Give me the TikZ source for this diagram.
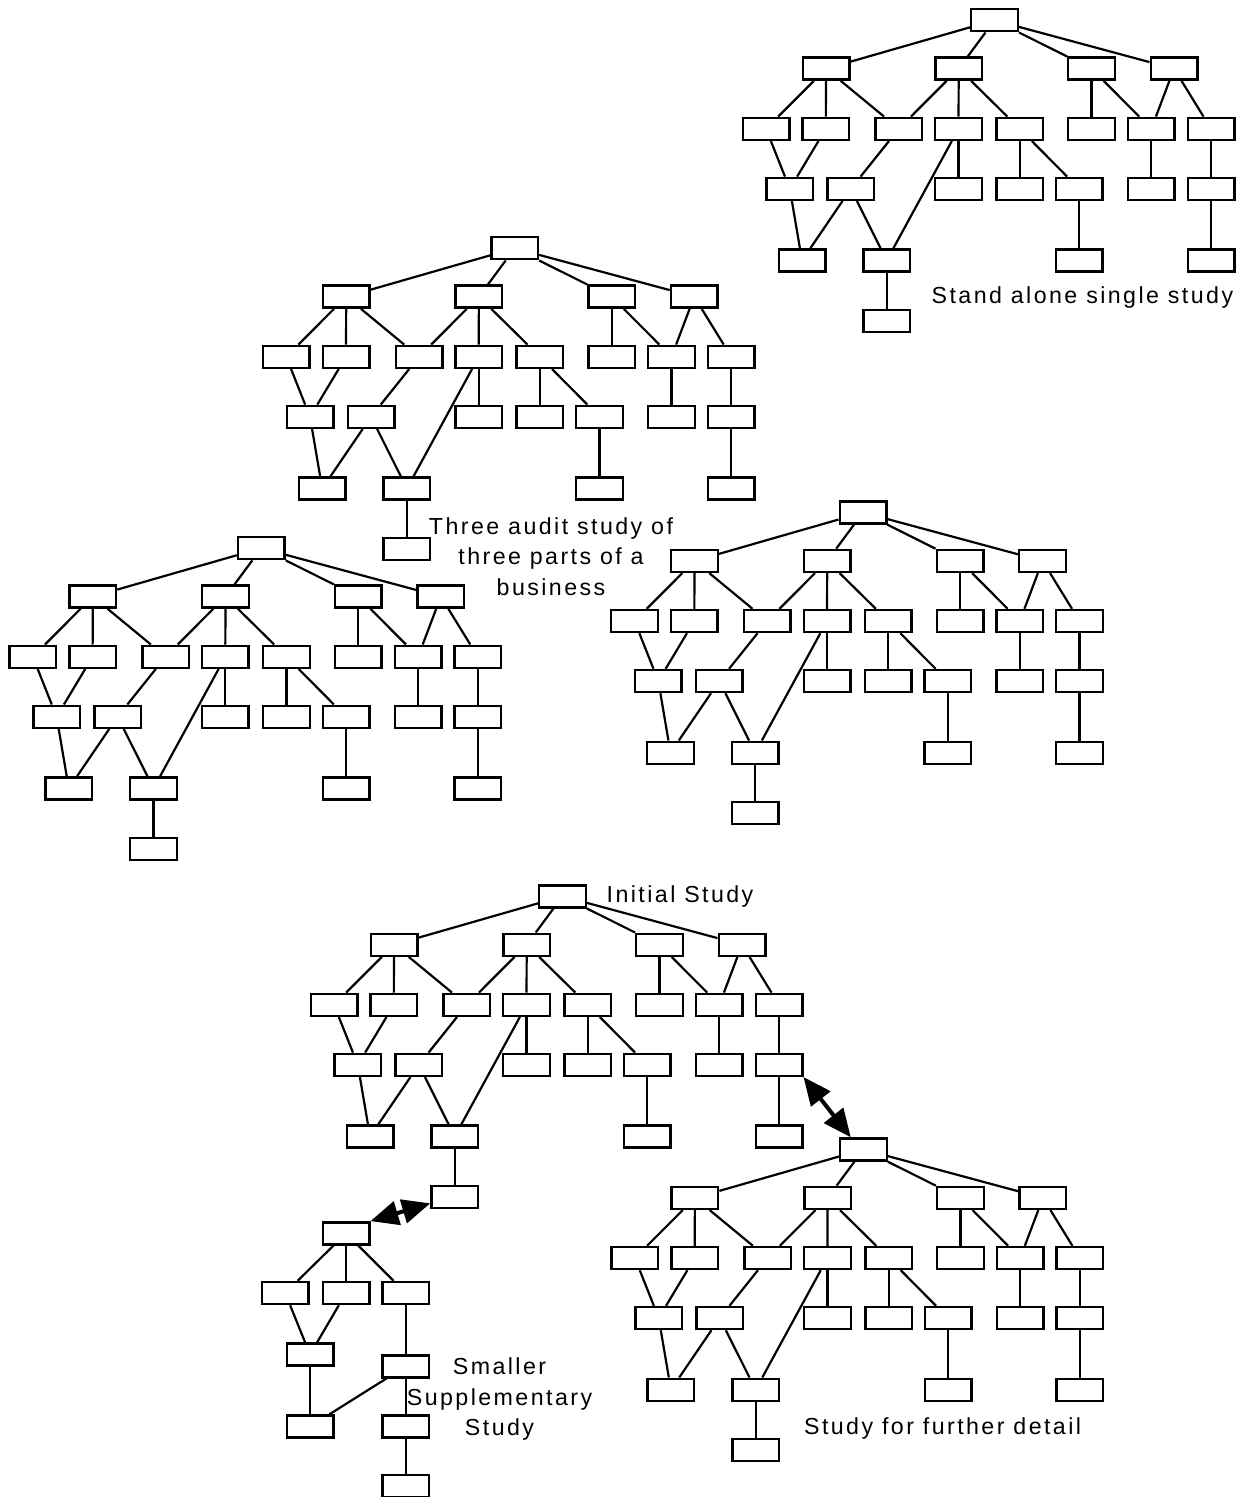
\documentclass[tikz,border=0pt]{standalone}
\usepackage{fontspec}
\setmainfont{Liberation Sans}[LetterSpace=10.5]
\usetikzlibrary{arrows.meta}

\tikzset{
  studybox/.style={draw, line width=1.2pt, minimum width=23.3pt,
                   minimum height=11pt, inner sep=0pt},
  link/.style={line width=1.1pt},
  caption/.style={font=\fontsize{11.6}{15.3}\selectfont, align=center, inner sep=0pt},
  studyarrow/.style={{Triangle[length=14pt,width=12pt]}-{Triangle[length=14pt,width=12pt]},
                     line width=2pt},
}

% one study tree, placed by its root
\newcommand{\studytree}[3]{%
  \begin{scope}[shift={(#2,#3)}]
    \foreach \x/\y/\name in
      {0/0/n0,
       -168.5/48.4/n1a, -35.8/48.4/n1b, 97/48.4/n1c, 179.5/48.4/n1d,
       -228.5/108.5/n2a, -168.7/108.5/n2b, -95.7/108.5/n2c, -36/108.5/n2d,
       25.2/108.5/n2e, 97/108.5/n2f, 156.8/108.5/n2g, 216.5/108.5/n2h,
       -204.7/168.5/n3a, -143.7/168.5/n3b, -36/168.5/n3c, 25.2/168.5/n3d,
       84.7/168.5/n3e, 156.8/168.5/n3f, 216.5/168.5/n3g,
       -192.5/240.2/n4a, -107.8/240.2/n4b, 84.7/240.2/n4c, 216.5/240.2/n4d,
       -107.8/300.5/n5a}{
      \node[studybox] (#1\name) at (\x,\y) {};
    }
    \foreach \pa/\ch in
      {n0/n1a, n0/n1b, n0/n1c, n0/n1d,
       n1a/n2a, n1a/n2b, n1a/n2c, n1b/n2c, n1b/n2d, n1b/n2e,
       n1c/n2f, n1c/n2g, n1d/n2g, n1d/n2h,
       n2a/n3a, n2b/n3a, n2c/n3b, n2d/n3c, n2d/n4b, n2e/n3d, n2e/n3e,
       n2g/n3f, n2h/n3g,
       n3a/n4a, n3b/n4a, n3b/n4b, n3e/n4c, n3g/n4d,
       n4b/n5a}{
      \draw[link] (#1\pa) -- (#1\ch);
    }
  \end{scope}}

\begin{document}
\begin{tikzpicture}[x=0.5pt, y=-0.5pt]
  \useasboundingbox (0,0) rectangle (1246,1497);

  % the six full studies
  \studytree{ta}{994.5}{20.3}
  \studytree{tb}{514.7}{248.3}
  \studytree{tc}{261.3}{548.2}
  \studytree{td}{863}{512.5}
  \studytree{te}{562.5}{896.3}
  \studytree{tf}{863.4}{1149.5}

  % smaller supplementary study
  \foreach \x/\y/\name in
    {346/1233.3/s0, 285.2/1293/s1, 346/1293/s2, 405.8/1293/s3,
     310/1354.5/s4, 405.8/1366.3/s5, 310/1426.5/s6, 405.8/1426.5/s7,
     405.8/1486.2/s8}{
    \node[studybox] (\name) at (\x,\y) {};
  }
  \foreach \pa/\ch in
    {s0/s1, s0/s2, s0/s3, s1/s4, s2/s4, s3/s5,
     s4/s6, s5/s6, s5/s7, s7/s8}{
    \draw[link] (\pa) -- (\ch);
  }

  % links between studies
  \draw[studyarrow] (ten3g.south east) -- (tfn0.136);
  \draw[studyarrow] (s0.north east) -- (ten5a.195);

  % captions
  \node[caption, anchor=base] (capalone) at (1082.4,304) {Stand alone single study};
  \node[caption, anchor=north] (capthree) at (551,517)
    {Three audit study of\\three parts of a\\business};
  \node[caption, anchor=base] (capinitial) at (680,902) {Initial Study};
  \node[caption, anchor=north] (capsmall) at (499.5,1357.5)
    {Smaller\\Supplementary\\Study};
  \node[caption, anchor=base] (capdetail) at (942.6,1434) {Study for further detail};
\end{tikzpicture}
\end{document}
